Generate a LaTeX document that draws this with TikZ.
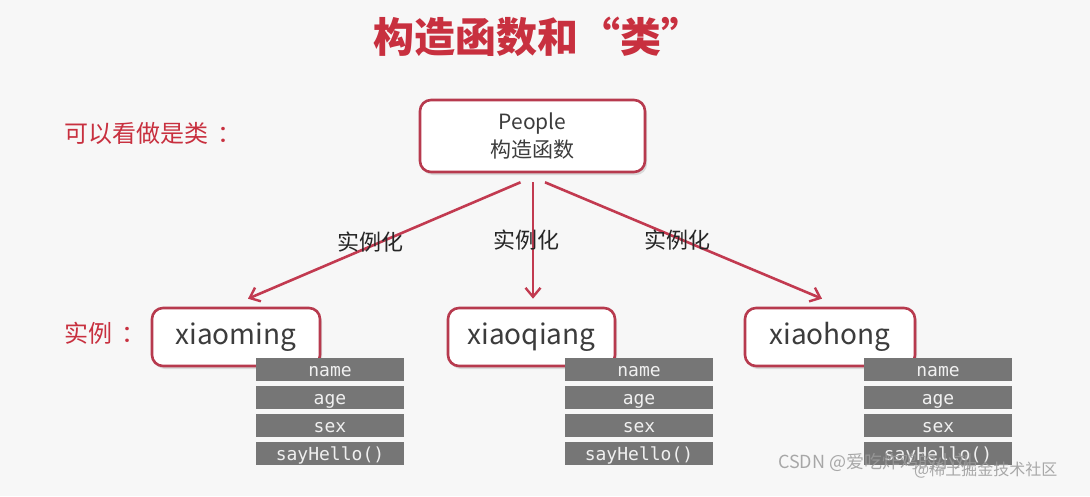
\documentclass[tikz,border=0pt]{standalone}
\usepackage{fontspec}
\setmainfont{Noto Sans CJK SC}
\newfontfamily\cjk{Noto Sans CJK SC}
\newfontfamily\monof{DejaVu Sans Mono}
\usetikzlibrary{arrows.meta,shadows}
\definecolor{bgc}{HTML}{F7F7F7}
\definecolor{redc}{HTML}{C8303F}
\definecolor{boxred}{HTML}{B73A4E}
\definecolor{arrred}{HTML}{C23A50}
\definecolor{txtgray}{HTML}{3C3C3C}
\definecolor{barc}{HTML}{767676}
\definecolor{wmc}{HTML}{9A9A9A}
\tikzset{
  rbox/.style={draw=boxred, line width=2.6pt, fill=white, rounded corners=11pt,
    text=txtgray, inner sep=0pt, align=center,
    drop shadow={opacity=0.25, shadow xshift=2pt, shadow yshift=-3pt}},
  bar/.style={fill=barc, minimum width=148pt, minimum height=23pt, inner sep=0pt},
  bartxt/.style={text=white!94!black, inner sep=0pt, font=\monof\fontsize{18}{18}\selectfont},
  arr/.style={draw=arrred, line width=2.6pt, -{Straight Barb[length=9pt,width=15pt,line width=2.4pt]}},
  lbl/.style={text=black!85, font=\cjk\fontsize{22}{22}\selectfont, inner sep=0pt},
  side/.style={text=redc, font=\cjk\fontsize{24}{24}\selectfont, inner sep=0pt, anchor=west},
}
\begin{document}
\begin{tikzpicture}[x=1pt,y=-1pt]
\fill[bgc] (0,0) rectangle (1090,496);
\useasboundingbox (0,0) rectangle (1090,496);

\node[text=redc, font=\cjk\bfseries\fontsize{41}{41}\selectfont, inner sep=0pt] (title) at (538,37) {构造函数和\hspace{2pt}“类”};

\node[side] (lblclass) at (64,133) {可以看做是类\hspace{9pt}：};
\node[side] (lblinst) at (64,333) {实例\hspace{9pt}：};

\node[rbox, minimum width=225pt, minimum height=72pt, font=\cjk\fontsize{21}{28}\selectfont] (people) at (532.5,136) {People\\构造函数};

\node[rbox, minimum width=168pt, minimum height=58pt, font=\cjk\fontsize{28}{28}\selectfont] (xiaoming) at (236,337) {xiaoming};
\node[rbox, minimum width=167pt, minimum height=58pt, font=\cjk\fontsize{28}{28}\selectfont] (xiaoqiang) at (531.5,337) {xiaoqiang};
\node[rbox, minimum width=170pt, minimum height=58pt, font=\cjk\fontsize{28}{28}\selectfont] (xiaohong) at (830,337) {xiaohong};

\draw[arr] ([xshift=-12pt,yshift=-9pt]people.south) -- ([xshift=12pt,yshift=8pt]xiaoming.north);
\draw[arr] ([xshift=0.5pt,yshift=-9pt]people.south) -- ([xshift=1.5pt,yshift=8pt]xiaoqiang.north);
\draw[arr] ([xshift=12.5pt,yshift=-9pt]people.south) -- ([xshift=-8pt,yshift=8pt]xiaohong.north);

\node[lbl] (l1) at (370,242) {实例化};
\node[lbl] (l2) at (526,240) {实例化};
\node[lbl] (l3) at (677,240) {实例化};

\foreach \cx/\nm in {330/a, 639/b, 938/c}{
  \node[bar] (\nm1) at (\cx,369) {};
  \node[bar] (\nm2) at (\cx,397) {};
  \node[bar] (\nm3) at (\cx,425) {};
  \node[bar] (\nm4) at (\cx,453) {};
  \node[bartxt, anchor=base] (\nm1t) at (\cx,376) {name};
  \node[bartxt, anchor=base] (\nm2t) at (\cx,404) {age};
  \node[bartxt, anchor=base] (\nm3t) at (\cx,432) {sex};
  \node[bartxt, anchor=base] (\nm4t) at (\cx,460) {sayHello()};
}

\node[text=wmc, opacity=0.85, font=\cjk\fontsize{18}{18}\selectfont, inner sep=0pt, anchor=west] (wm1) at (778,462) {CSDN @爱吃炸鸡的小刘};
\node[text=wmc, opacity=0.85, font=\cjk\fontsize{16}{16}\selectfont, inner sep=0pt, anchor=west] (wm2) at (914,470) {@稀土掘金技术社区};
\end{tikzpicture}
\end{document}
